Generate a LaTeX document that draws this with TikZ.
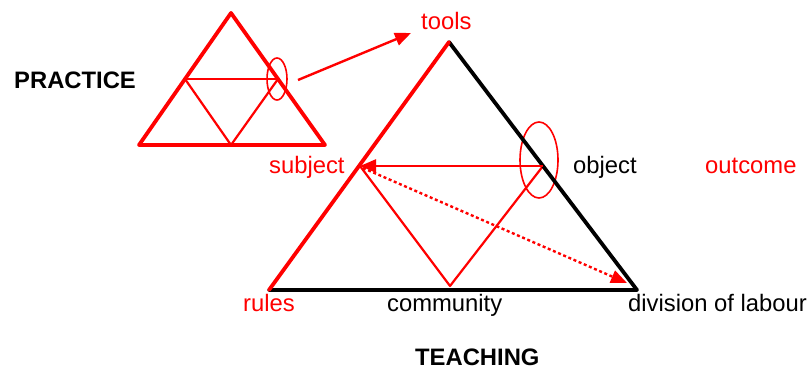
\documentclass[tikz,border=0pt]{standalone}
\usepackage{fontspec}
\setmainfont{Liberation Sans}
\usetikzlibrary{arrows.meta}
\definecolor{pred}{RGB}{255,0,0}
\begin{document}
\begin{tikzpicture}[x=1pt,y=-1pt,
  thickline/.style={line width=3.8pt, line cap=round, line join=round},
  thinline/.style={line width=2.2pt, pred, line join=round},
  ringline/.style={line width=1.6pt, pred},
  lbl/.style={anchor=base west, inner sep=0pt, font=\fontsize{23.8}{27}\selectfont},
  boldlbl/.style={lbl, font=\fontsize{23.8}{27}\selectfont\bfseries},
  bigtip/.style={-{Triangle[length=16pt,width=13pt]}}]
\useasboundingbox (0,0) rectangle (810,370);
% small triangle
\coordinate (sa) at (231,13);
\coordinate (sl) at (139,145);
\coordinate (sr) at (325,145);
\coordinate (sml) at (185,79);
\coordinate (smr) at (278,79);
\coordinate (smb) at (231,145);
\draw[ringline] (277,79) ellipse [x radius=10, y radius=21];
\draw[thinline] (sml) -- (smr);
\draw[thinline] (sml) -- (smb) -- (smr);
\draw[thickline, pred] (sa) -- (sl) -- (sr) -- cycle;
% large triangle
\coordinate (la) at (449,42);
\coordinate (ll) at (269,290);
\coordinate (lr) at (637,290);
\coordinate (lml) at (360,166);
\coordinate (lmr) at (543,166);
\coordinate (lmb) at (450,286);
\coordinate (dotend) at (627,283);
\draw[ringline] (539,160) ellipse [x radius=19, y radius=38];
\draw[thinline] (lml) -- (lmb) -- (lmr);
\draw[thickline] (ll) -- (lr) -- (la);
\draw[thickline, pred] (ll) -- (la);
\draw[pred, line width=2.4pt, bigtip] (lmr) -- (lml);
\draw[pred, line width=2.4pt, dash pattern=on 3pt off 2.6pt, bigtip] (363,168) -- (dotend);
% transfer arrow
\coordinate (tstart) at (298,80);
\coordinate (tend) at (411,33);
\draw[pred, line width=2.4pt, bigtip] (tstart) -- (tend);
% labels
\node[boldlbl] (practice) at (14,88) {PRACTICE};
\node[lbl, pred] (tools) at (421,29) {tools};
\node[lbl, pred] (subject) at (269,173) {subject};
\node[lbl] (object) at (573,173) {object};
\node[lbl, pred] (outcome) at (705,173) {outcome};
\node[lbl, pred] (rules) at (243,311) {rules};
\node[lbl] (community) at (387,311) {community};
\node[lbl] (division) at (628,311) {division of labour};
\node[boldlbl] (teaching) at (415,365) {TEACHING};
\end{tikzpicture}
\end{document}
